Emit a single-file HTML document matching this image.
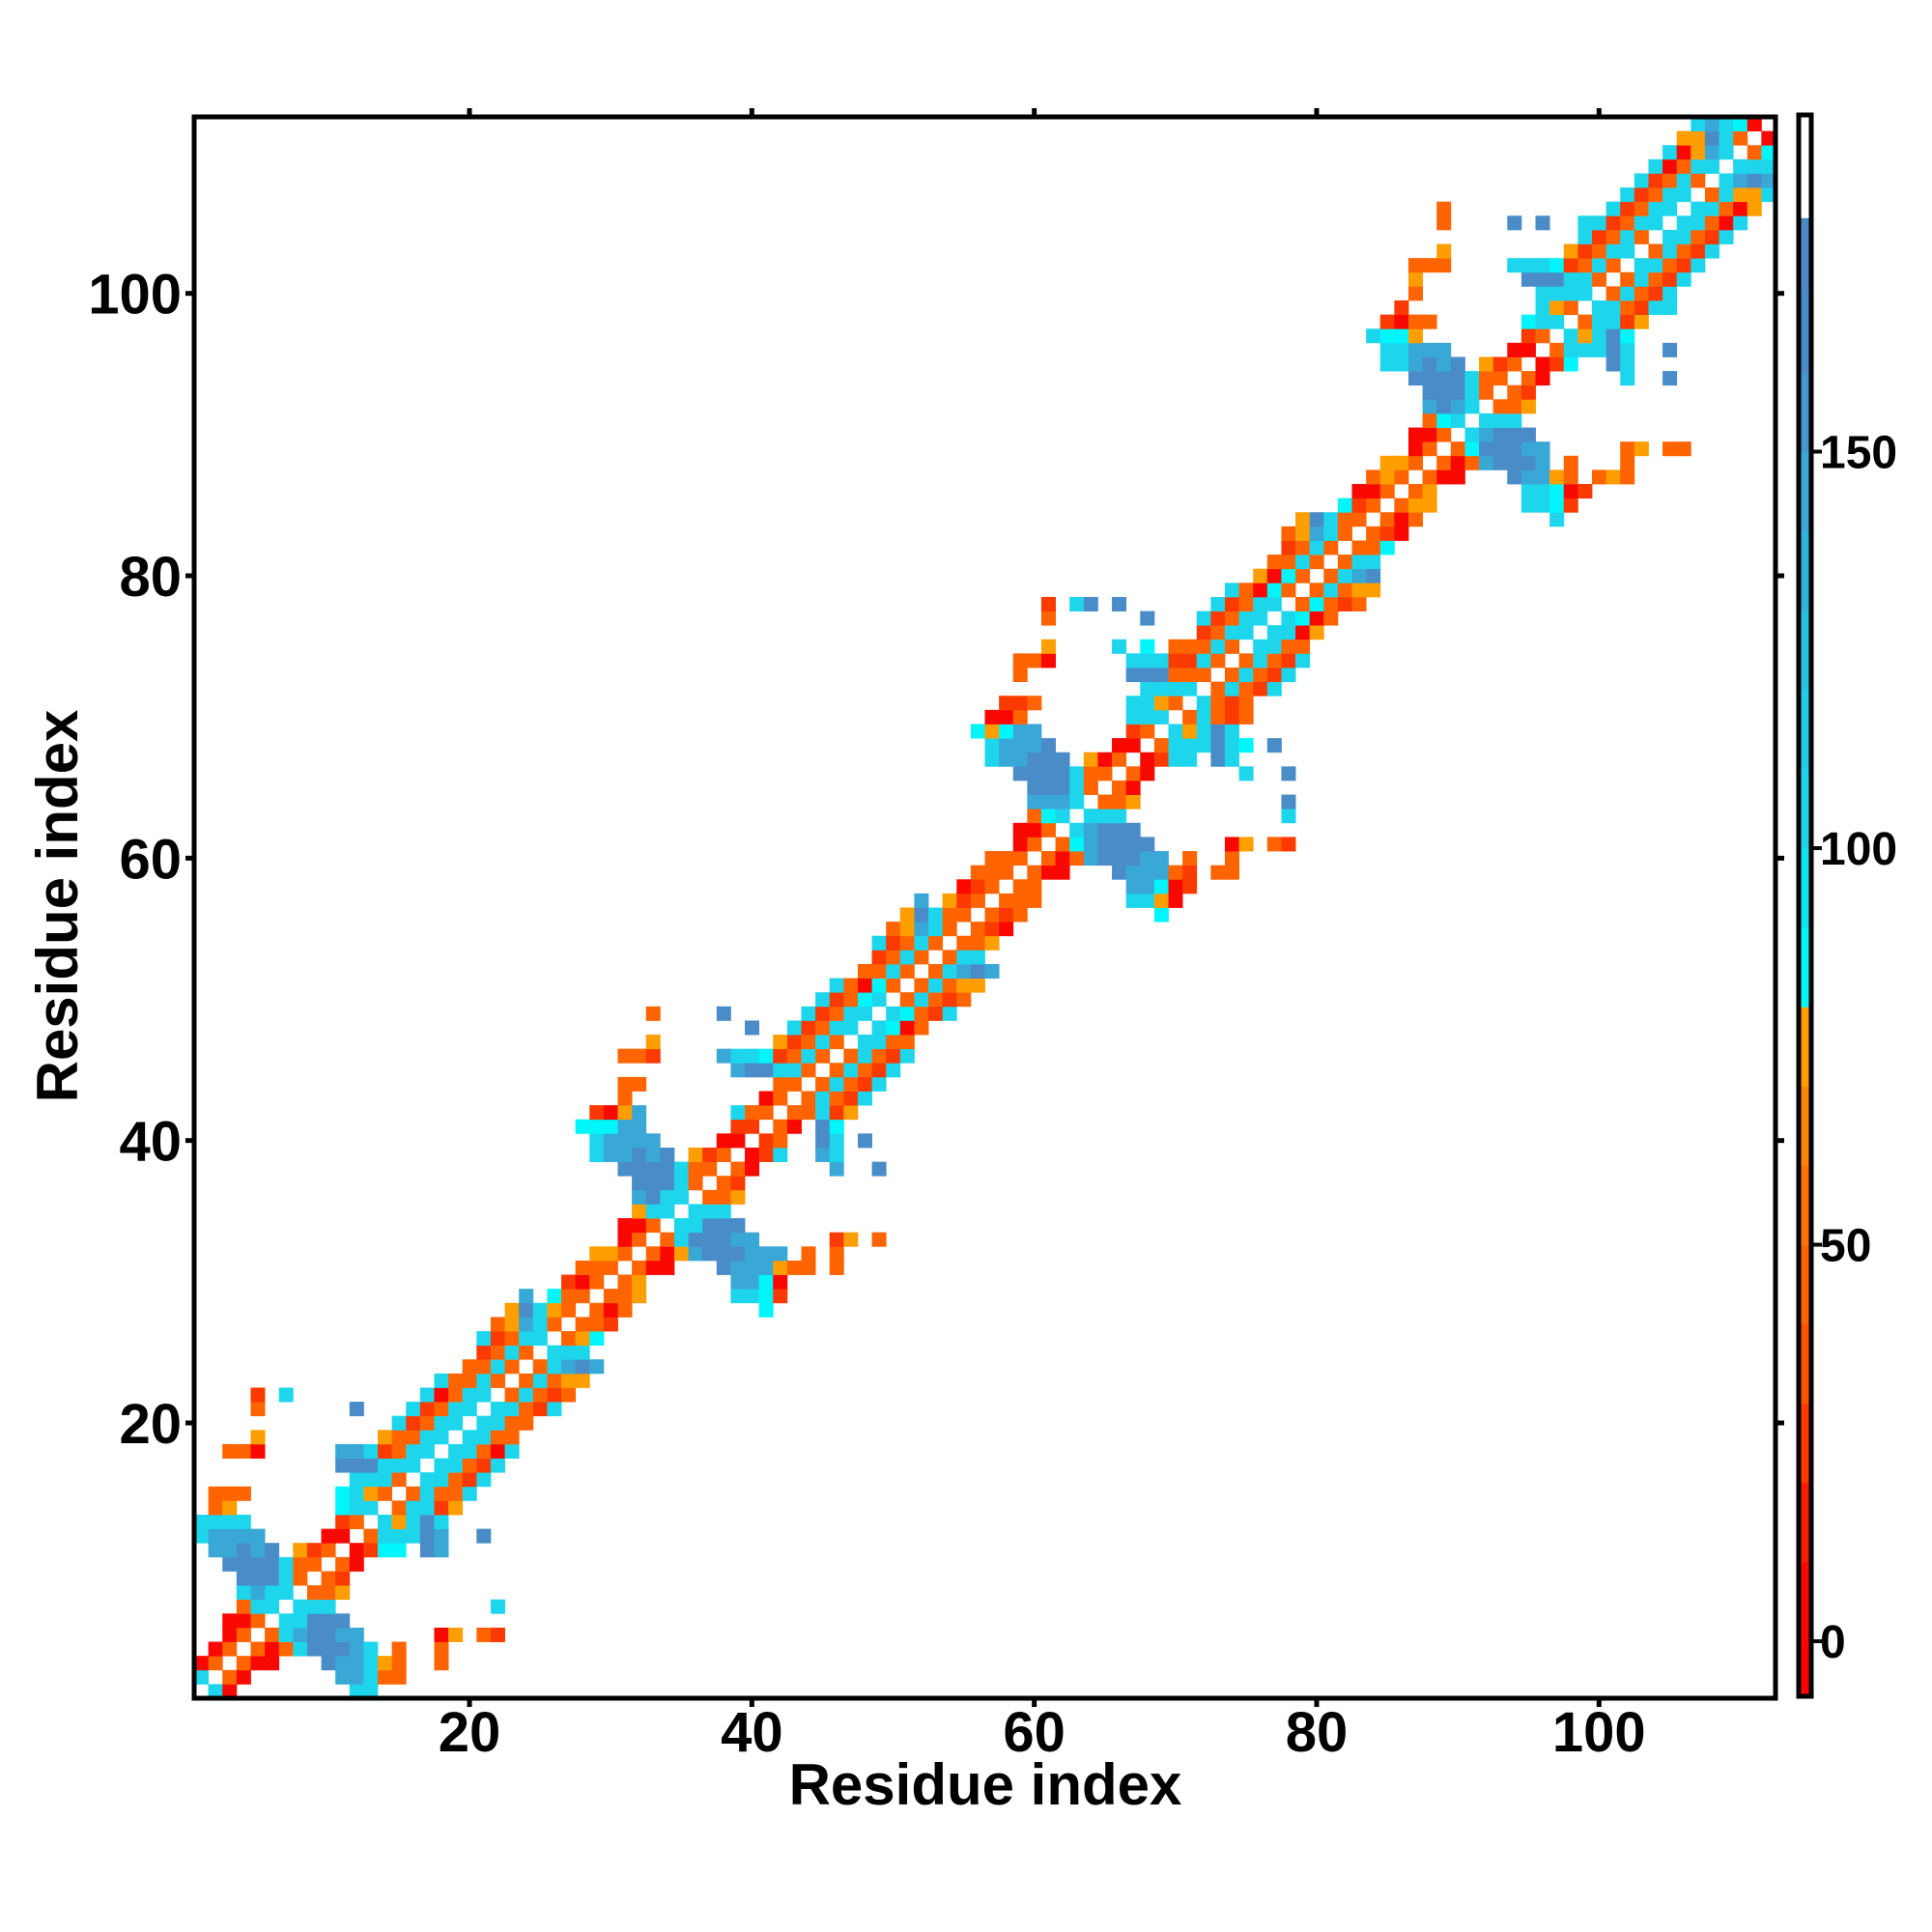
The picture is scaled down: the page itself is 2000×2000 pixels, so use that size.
<!DOCTYPE html>
<html><head><meta charset="utf-8"><style>
html,body{margin:0;padding:0;background:#fff;}
svg{display:block;font-family:"Liberation Sans",sans-serif;font-weight:bold;}
</style></head><body>
<svg id="chart" width="2000" height="2000" viewBox="0 0 2000 2000" xmlns="http://www.w3.org/2000/svg">
<rect x="0" y="0" width="2000" height="2000" fill="#fff"/>
<g id="cells"></g>
<g id="axes"></g>
<g id="cbar"></g>
<text x="1020" y="1868" font-size="60" text-anchor="middle">Residue index</text>
<text x="0" y="0" font-size="60" text-anchor="middle" transform="translate(80,938) rotate(-90)">Residue index</text>
</svg>
<script>
// value per colour code (distance-like scale of the colorbar)
const codeValues = {R:5, E:25, O:45, A:72, C:86, L:105, S:140, B:165};
// rows: [residue y, first x, codes for x = first.. ] (upper triangle x>y; mirrored)
const rowY = [1,2,3,4,5,6,7,8,9,10,11,12,13,14,15,16,17,18,19,20,21,22,23,24,25,26,27,28,29,30,31,32,33,34,35,36,37,38,39,40,41,42,43,44,45,46,47,48,49,50,51,52,53,54,55,56,57,58,59,60,61,62,63,64,65,66,67,68,69,70,71,72,73,74,75,76,77,78,79,80,81,82,83,84,85,86,87,88,89,90,91,92,93,94,95,96,97,98,99,100,101,102,103,104,105,106,107,108,109,110,111];
const rowX0 = [2,3,4,5,6,7,8,9,10,11,12,13,14,15,16,17,18,19,20,21,22,23,24,25,26,27,28,29,30,31,32,33,34,35,36,37,38,39,40,41,42,43,44,45,46,47,48,49,50,51,52,53,54,55,56,57,58,59,60,61,62,63,64,65,66,67,68,69,70,71,72,73,74,75,76,77,78,79,80,81,82,83,84,85,86,87,88,89,90,91,92,93,94,95,96,97,98,99,100,101,102,103,104,105,106,107,108,109,110,111,112];
const rowCodes = [
"LR........LL","OR......SSLOO","ORR...BSSLAO..O","OROLBBBSL.O..O","OLSBBSS.....RA.OE","LLBBB","LLL...........L","OOA","OE","OR",
"RECC.BS","OLLLBS..B","LALBL","OLLEA","OLOOL","LLOEL","LLOEL","LLORL","LLOO","LLOO",
"LLOEL","OLOEO","OLOAA","OLSBS","LLL","OAC","OOE","ORO.........C","OOA......LLCE","OA......SSCR",
"ORR...BSSSAOO.O","ORASBBBSSS.O.O","OLBBBSS.....EA.O","LLBBB","LLL","OOA","OE","OR.....S..B","REL..SL","EO..BL.B",
"OR.BC","OOLEA","OLOEL","OLOEL","OLOEL","OLOEL","LLOO","LCRO","LCOEL","OLOEO",
"OLOAA","OLSBS","OLL","OOA","OER","OEO.........C","OOO......LLAR","OO......SSCRE","ORR...BSSSOE.OO","OROSBBBSS.O..O",
"OCSBBBB.....RA.OE","LSBBB","LLL...........L","OOA..........B","OR","OR......L..B","RELL.BL","OLLLBLC.B","LALBL","OLOEO",
"LOEO","OLOEL","OLOEL","OLOEL","LLOO","LLRA","LCRO","OCOEO","OLOAA","OLSB",
"OLL","OOC","OER","ORO.........L","OAA......LLCE","OA......LLCRE","ORR...BSSAO.OAO","OROSBBBS.O...O","OCBBBSS.....OA.OO","LSBBB",
"LLL","OOA","OE","OR.....L..B","REC..BL","OLLLBL..B","LALBC","OLLEA","LLOELL","OLOEL",
"OLOEL","LLOEL","OLOEL","LLOEL","LLORL","LLORA","OLAAL","LSBS","LLL","OC","R"];
// colorbar scale
const cbarBounds = [-7,0,10,20,30,40,50,60,70,80,90,100,110,120,130,140,150,160,170,179.5,192.4];
const cbarColors = ["#ff0000","#f80800","#f51c00","#fa3a00","#ff5200","#ff6400","#ff7200","#ff8200","#ff9e00","#00f6fa","#10e4f0","#1ed6ec","#22ccea","#28c0e4","#30b4de","#3aa8d6","#4496ce","#4a8cc8","#4a88c6","#ffffff"];
const cbarTicks = [0,50,100,150];
const axisTicks = [20,40,60,80,100];

const NS = "http://www.w3.org/2000/svg";
const L0 = 201, R0 = 1838, T0 = 121, B0 = 1758, N = 112;
const cw = (R0 - L0) / N;
function xPos(v){ return L0 + (v - 0.5) * cw; }
function yPos(v){ return B0 - (v - 0.5) * cw; }
const CB_TOP = 119, CB_BOT = 1756, CB_V0 = 1699, CB_K = 8.21;
function cbY(v){ return CB_V0 - v * CB_K; }
function colorOf(v){
  for (let i = 0; i < cbarColors.length; i++) if (v < cbarBounds[i+1]) return cbarColors[i];
  return cbarColors[cbarColors.length-1];
}
function mk(tag, attrs, parent){
  const e = document.createElementNS(NS, tag);
  for (const k in attrs) e.setAttribute(k, attrs[k]);
  parent.appendChild(e); return e;
}
const cells = document.getElementById('cells');
function cell(x, y, v){
  const r = mk('rect', {x:(xPos(x)-cw/2).toFixed(2), y:(yPos(y)-cw/2).toFixed(2), width:(cw+0.4).toFixed(2), height:(cw+0.4).toFixed(2), fill:colorOf(v)}, cells);
  
  
}
for (let k = 0; k < rowY.length; k++){
  const y = rowY[k], x0 = rowX0[k], s = rowCodes[k];
  for (let t = 0; t < s.length; t++){
    const c = s[t]; if (!(c in codeValues)) continue;
    const x = x0 + t; if (x > N) continue;
    cell(x, y, codeValues[c]);
    cell(y, x, codeValues[c]);
  }
}
// axes
const ax = document.getElementById('axes');
const frame = mk('rect', {x:L0, y:T0, width:R0-L0, height:B0-T0, fill:'none', stroke:'#000', 'stroke-width':5}, ax);


axisTicks.forEach(v => {
  const x = xPos(v), y = yPos(v);
  mk('line', {x1:x, x2:x, y1:B0, y2:B0+9, stroke:'#000','stroke-width':5}, ax);
  mk('line', {x1:x, x2:x, y1:T0, y2:T0-9, stroke:'#000','stroke-width':5}, ax);
  mk('line', {x1:L0, x2:L0-9, y1:y, y2:y, stroke:'#000','stroke-width':5}, ax);
  mk('line', {x1:R0, x2:R0+9, y1:y, y2:y, stroke:'#000','stroke-width':5}, ax);
  const tx = mk('text', {x:x, y:1813, 'font-size':58, 'text-anchor':'middle'}, ax);
  tx.textContent = v;
  
  
  const ty = mk('text', {x:188, y:y+21, 'font-size':58, 'text-anchor':'end'}, ax);
  ty.textContent = v;
  
  
});
// colorbar
const cb = document.getElementById('cbar');
for (let i = 0; i < cbarColors.length; i++){
  const y1 = Math.max(CB_TOP, cbY(cbarBounds[i+1])), y2 = Math.min(CB_BOT, cbY(cbarBounds[i]));
  const r = mk('rect', {x:1864, y:y1.toFixed(2), width:9, height:(y2-y1+0.5).toFixed(2), fill:cbarColors[i]}, cb);
  
  
}
const cbf = mk('rect', {x:1862, y:CB_TOP, width:13, height:CB_BOT-CB_TOP, fill:'none', stroke:'#000','stroke-width':5}, cb);


cbarTicks.forEach(v => {
  const y = cbY(v);
  mk('line', {x1:1875, x2:1886, y1:y, y2:y, stroke:'#000','stroke-width':4}, cb);
  const t = mk('text', {x:1884, y:y+17, 'font-size':48}, cb);
  t.textContent = v;
  
  
});
</script>
</body></html>
